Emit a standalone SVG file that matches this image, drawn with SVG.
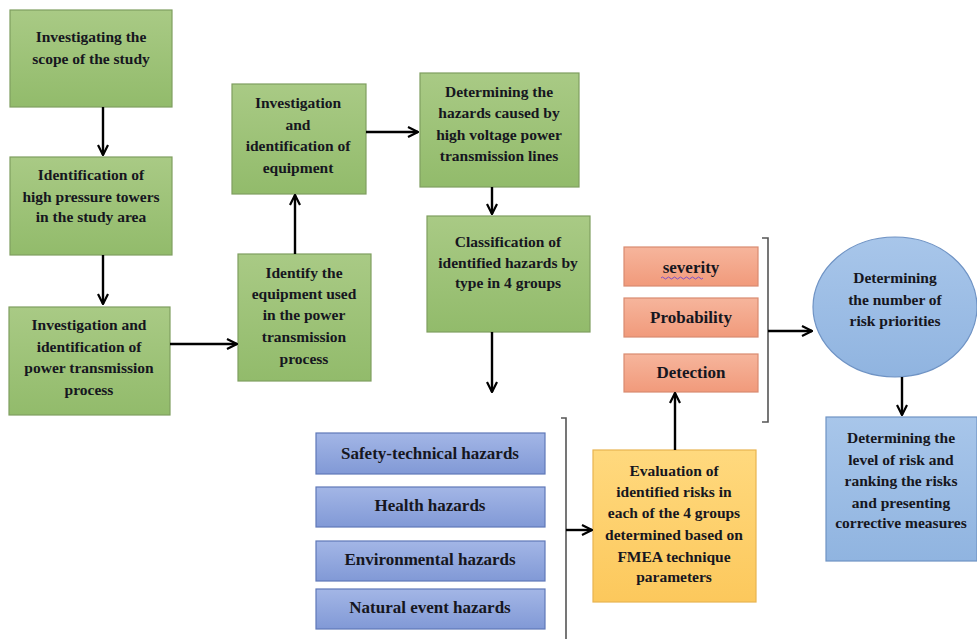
<svg xmlns="http://www.w3.org/2000/svg" width="977" height="639" viewBox="0 0 977 639">
<defs>
<linearGradient id="gGreen" x1="0" y1="0" x2="0" y2="1"><stop offset="0" stop-color="#a9ca85"/><stop offset="1" stop-color="#92bb6b"/></linearGradient>
<linearGradient id="gOrange" x1="0" y1="0" x2="0" y2="1"><stop offset="0" stop-color="#f6b59c"/><stop offset="1" stop-color="#f19a7b"/></linearGradient>
<linearGradient id="gBlue" x1="0" y1="0" x2="0" y2="1"><stop offset="0" stop-color="#a3b6e6"/><stop offset="1" stop-color="#8199d6"/></linearGradient>
<linearGradient id="gYellow" x1="0" y1="0" x2="0" y2="1"><stop offset="0" stop-color="#ffd97e"/><stop offset="1" stop-color="#fcc85c"/></linearGradient>
<linearGradient id="gSky" x1="0" y1="0" x2="0" y2="1"><stop offset="0" stop-color="#a8c6ea"/><stop offset="1" stop-color="#90b4e0"/></linearGradient>
<marker id="arr" viewBox="0 0 12 12" refX="11" refY="6" markerWidth="12" markerHeight="12" markerUnits="userSpaceOnUse" orient="auto">
<path d="M1,1 L11,6 L1,11" fill="none" stroke="#000" stroke-width="2.2"/>
</marker>
</defs>
<style>
.t{font-family:"Liberation Serif","Times New Roman",serif;font-weight:bold;font-size:15.5px;fill:#161620;text-anchor:middle}
.L{font-size:17px}
.green{fill:url(#gGreen);stroke:#7f9e5f;stroke-width:1.2}
.orange{fill:url(#gOrange);stroke:#d98b70;stroke-width:1.2}
.blue{fill:url(#gBlue);stroke:#5f78b8;stroke-width:1.2}
.yellow{fill:url(#gYellow);stroke:#e8b450;stroke-width:1.2}
.sky{fill:url(#gSky);stroke:#6f93c4;stroke-width:1.2}
.c{fill:none;stroke:#000;stroke-width:2.4}
.br{fill:none;stroke:#555;stroke-width:1.6}
</style>
<rect width="977" height="639" fill="#ffffff"/>

<g id="n1"><rect class="green" x="10" y="10" width="162" height="97"/>
<text class="t" x="91" y="42">Investigating the</text><text class="t" x="91" y="64">scope of the study</text></g>

<g id="n2"><rect class="green" x="10" y="157" width="162" height="98"/>
<text class="t" x="91" y="180">Identification of</text><text class="t" x="91" y="202">high pressure towers</text><text class="t" x="91" y="222">in the study area</text></g>

<g id="n3"><rect class="green" x="9" y="307" width="161" height="108"/>
<text class="t" x="89" y="330">Investigation and</text><text class="t" x="89" y="352">identification of</text><text class="t" x="89" y="373">power transmission</text><text class="t" x="89" y="395">process</text></g>

<g id="n4"><rect class="green" x="238" y="254" width="133" height="127"/>
<text class="t" x="304" y="278">Identify the</text><text class="t" x="304" y="299">equipment used</text><text class="t" x="304" y="320">in the power</text><text class="t" x="304" y="342">transmission</text><text class="t" x="304" y="364">process</text></g>

<g id="n5"><rect class="green" x="232" y="84" width="134" height="110"/>
<text class="t" x="298" y="108">Investigation</text><text class="t" x="298" y="130">and</text><text class="t" x="298" y="151">identification of</text><text class="t" x="298" y="173">equipment</text></g>

<g id="n6"><rect class="green" x="420" y="73" width="159" height="114"/>
<text class="t" x="499" y="97">Determining the</text><text class="t" x="499" y="118">hazards caused by</text><text class="t" x="499" y="140">high voltage power</text><text class="t" x="499" y="161">transmission lines</text></g>

<g id="n7"><rect class="green" x="427" y="216" width="163" height="116"/>
<text class="t" x="508" y="247">Classification of</text><text class="t" x="508" y="268">identified hazards by</text><text class="t" x="508" y="288">type in 4 groups</text></g>

<g id="n8"><rect class="orange" x="624" y="247" width="134" height="39"/>
<text class="t L" x="691" y="273">severity</text>
<path d="M661,278 q1.5,-2 3,0 t3,0 t3,0 t3,0 t3,0 t3,0 t3,0 t3,0 t3,0 t3,0 t3,0 t3,0 t3,0 t3,0" fill="none" stroke="#7b4fc9" stroke-width="1"/></g>

<g id="n9"><rect class="orange" x="624" y="298" width="134" height="39"/>
<text class="t L" x="691" y="323">Probability</text></g>

<g id="n10"><rect class="orange" x="624" y="354" width="134" height="38"/>
<text class="t L" x="691" y="378">Detection</text></g>

<g id="n11"><ellipse class="sky" cx="895" cy="307" rx="82" ry="70"/>
<text class="t" x="895" y="283">Determining</text><text class="t" x="895" y="305">the number of</text><text class="t" x="895" y="326">risk priorities</text></g>

<g id="n12"><rect class="sky" x="826" y="417" width="151" height="144"/>
<text class="t" x="901" y="443">Determining the</text><text class="t" x="901" y="465">level of risk and</text><text class="t" x="901" y="486">ranking the risks</text><text class="t" x="901" y="508">and presenting</text><text class="t" x="901" y="528">corrective measures</text></g>

<g id="n13"><rect class="blue" x="316" y="433" width="229" height="41"/>
<text class="t L" x="430" y="459">Safety-technical hazards</text></g>
<g id="n14"><rect class="blue" x="316" y="487" width="229" height="40"/>
<text class="t L" x="430" y="511">Health  hazards</text></g>
<g id="n15"><rect class="blue" x="316" y="541" width="229" height="40"/>
<text class="t L" x="430" y="565">Environmental hazards</text></g>
<g id="n16"><rect class="blue" x="316" y="589" width="229" height="40"/>
<text class="t L" x="430" y="613">Natural event hazards</text></g>

<g id="n17"><rect class="yellow" x="593" y="450" width="163" height="152"/>
<text class="t" x="674" y="476">Evaluation of</text><text class="t" x="674" y="497">identified risks in</text><text class="t" x="674" y="518">each of the 4 groups</text><text class="t" x="674" y="540">determined based on</text><text class="t" x="674" y="562">FMEA technique</text><text class="t" x="674" y="582">parameters</text></g>

<g id="brackets">
<path class="br" d="M762,238 H768 V422 H762"/>
<path class="br" d="M561,418 H566 V639"/>
</g>

<g id="connectors">
<path class="c" d="M103,107 V155" marker-end="url(#arr)"/>
<path class="c" d="M103,255 V304" marker-end="url(#arr)"/>
<path class="c" d="M170,344 H237" marker-end="url(#arr)"/>
<path class="c" d="M295,254 V195" marker-end="url(#arr)"/>
<path class="c" d="M366,132 H418" marker-end="url(#arr)"/>
<path class="c" d="M492,187 V214" marker-end="url(#arr)"/>
<path class="c" d="M492,332 V392" marker-end="url(#arr)"/>
<path class="c" d="M675,450 V393" marker-end="url(#arr)"/>
<path class="c" d="M768,331 H812" marker-end="url(#arr)"/>
<path class="c" d="M902,377 V415" marker-end="url(#arr)"/>
<path class="c" d="M566,530 H592" marker-end="url(#arr)"/>
</g>
</svg>
